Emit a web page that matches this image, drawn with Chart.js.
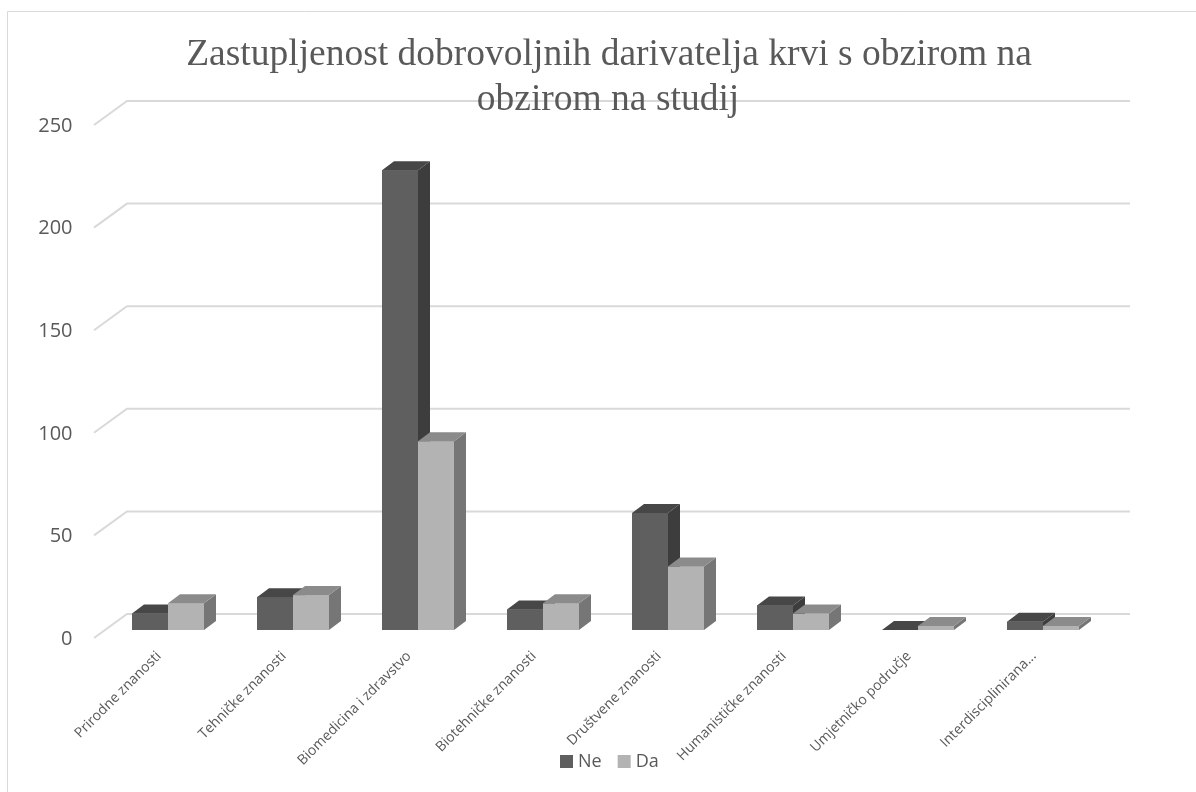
<!DOCTYPE html>
<html>
<head>
<meta charset="utf-8">
<script src="https://cdn.jsdelivr.net/npm/chart.js@4.4.1/dist/chart.umd.min.js"></script>
<style>
  html, body { margin: 0; padding: 0; background: #ffffff; }
  #wrap { width: 1196px; height: 792px; position: relative; }
</style>
</head>
<body>
<div id="wrap"><canvas id="c" width="1196" height="792"></canvas></div>
<script>
// ---- data ----
const titleLines = ['Zastupljenost dobrovoljnih darivatelja krvi s obzirom na', 'obzirom na studij'];
const categories = ['Prirodne znanosti', 'Tehničke znanosti', 'Biomedicina i zdravstvo', 'Biotehničke znanosti', 'Društvene znanosti', 'Humanističke znanosti', 'Umjetničko područje', 'Interdisciplinirana...'];
const seriesNames = ['Ne', 'Da'];
const neValues = [8, 16, 224, 10, 57, 12, 0, 4];
const daValues = [13, 17, 92, 13, 31, 8, 2, 2];
const yTickValues = [0, 50, 100, 150, 200, 250];

// ---- styles ----
const TEXT = '#595959';
const GRID = '#d9d9d9';
const faces = [
  { front: '#5f5f5f', top: '#474747', side: '#3d3d3d' },
  { front: '#b3b3b3', top: '#8b8b8b', side: '#767676' }
];
const DX = 12, DY = 9;

const bar3d = {
  id: 'bar3d',
  beforeDraw(chart) {
    const ctx = chart.ctx;
    ctx.save();
    ctx.strokeStyle = GRID;
    ctx.lineWidth = 1;
    ctx.beginPath();
    ctx.moveTo(7.5, 792);
    ctx.lineTo(7.5, 11.5);
    ctx.lineTo(1196, 11.5);
    ctx.stroke();
    ctx.restore();
  },
  beforeDatasetsDraw(chart) {
    const ctx = chart.ctx;
    const ys = chart.scales.y;
    ctx.save();
    ctx.strokeStyle = GRID;
    ctx.lineWidth = 2;
    yTickValues.forEach(v => {
      const p = ys.getPixelForValue(v);
      ctx.beginPath();
      ctx.moveTo(94, p + 8);
      ctx.lineTo(127, p - 16);
      ctx.lineTo(1130, p - 16);
      ctx.stroke();
    });
    ctx.restore();
  },
  afterDatasetsDraw(chart) {
    const ctx = chart.ctx;
    ctx.save();
    const metas = chart.data.datasets.map((d, i) => chart.getDatasetMeta(i));
    for (let j = 0; j < categories.length; j++) {
      metas.forEach((meta, i) => {
        const el = meta.data[j];
        const { x, y, base, width } = el.getProps(['x', 'y', 'base', 'width'], true);
        const xl = x - width / 2, xr = x + width / 2;
        const f = faces[i];
        ctx.fillStyle = f.front;
        ctx.fillRect(xl, y, width, base - y);
        ctx.fillStyle = f.side;
        ctx.beginPath();
        ctx.moveTo(xr, y); ctx.lineTo(xr + DX, y - DY); ctx.lineTo(xr + DX, base - DY); ctx.lineTo(xr, base);
        ctx.closePath(); ctx.fill();
        ctx.fillStyle = f.top;
        ctx.beginPath();
        ctx.moveTo(xl, y); ctx.lineTo(xr, y); ctx.lineTo(xr + DX, y - DY); ctx.lineTo(xl + DX, y - DY);
        ctx.closePath(); ctx.fill();
      });
    }
    ctx.restore();
  },
  afterDraw(chart) {
    const ctx = chart.ctx;
    ctx.save();
    // title
    ctx.fillStyle = TEXT;
    ctx.font = '37.5px "Liberation Serif", "Times New Roman", serif';
    ctx.textAlign = 'center';
    ctx.textBaseline = 'alphabetic';
    ctx.fillText(titleLines[0], 609, 65);
    ctx.fillText(titleLines[1], 608, 110);
    // legend
    ctx.font = '18px "Open Sans", sans-serif';
    ctx.textAlign = 'left';
    ctx.textBaseline = 'middle';
    let lx = 560;
    chart.data.datasets.forEach((ds, i) => {
      ctx.fillStyle = ds.backgroundColor;
      ctx.fillRect(lx, 755, 13, 13);
      ctx.fillStyle = TEXT;
      ctx.fillText(ds.label, lx + 18, 762);
      lx += 18 + ctx.measureText(ds.label).width + 16;
    });
    ctx.restore();
  }
};

new Chart(document.getElementById('c'), {
  type: 'bar',
  data: {
    labels: categories,
    datasets: [
      { label: seriesNames[0], data: neValues, backgroundColor: faces[0].front, borderWidth: 0 },
      { label: seriesNames[1], data: daValues, backgroundColor: faces[1].front, borderWidth: 0 }
    ]
  },
  options: {
    responsive: false,
    animation: false,
    events: [],
    layout: { padding: { top: 117, right: 90.5, left: 0, bottom: 0 } },
    datasets: { bar: { categoryPercentage: 0.576, barPercentage: 1.0 } },
    plugins: { legend: { display: false }, title: { display: false }, tooltip: { enabled: false } },
    scales: {
      x: {
        grid: { display: false, drawTicks: false },
        border: { display: false },
        ticks: {
          autoSkip: false, maxRotation: 45, minRotation: 45,
          padding: 18, labelOffset: -9,
          color: TEXT, font: { family: 'Open Sans', size: 14 }
        },
        afterFit(scale) { scale.height = 162; }
      },
      y: {
        min: 0, max: 250,
        grid: { display: false, drawTicks: false },
        border: { display: false },
        ticks: {
          stepSize: 50, padding: 33, labelOffset: 9,
          color: TEXT, font: { family: 'Open Sans', size: 20 }
        },
        afterFit(scale) { scale.width = 105.5; }
      }
    }
  },
  plugins: [bar3d]
});
</script>
</body>
</html>
